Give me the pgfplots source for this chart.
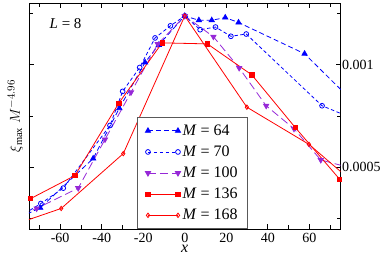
\documentclass[border=0pt]{standalone}
\usepackage{pgfplots}
\pgfplotsset{compat=1.18}
\usepackage{fontspec}
\setmainfont{Liberation Serif}
\definecolor{mblue}{RGB}{0,0,255}
\definecolor{mpurple}{RGB}{150,40,215}
\definecolor{mred}{RGB}{255,0,0}
\begin{document}
\begin{tikzpicture}
\useasboundingbox (-29pt,-26pt) rectangle (353pt,229pt);
\begin{axis}[
  at={(0,0)}, anchor=south west,
  scale only axis,
  width=311.5pt, height=226pt,
  xmin=-75, xmax=75, ymin=0.0002, ymax=0.0013,
  xtick={-60,-40,...,60},
  minor xtick={-70,-50,...,70},
  ytick={0.0005,0.001},
  yticklabels={0.0005,0.001},
  minor ytick={0.00025,0.00075,0.00125},
  scaled y ticks=false,
  tick align=inside,
  yticklabel pos=right,
  xtick pos=both, ytick pos=both,
  major tick length=5pt, minor tick length=4pt,
  tick style={black, line width=0.8pt},
  axis line style={line width=0.9pt},
  /pgf/number format/assume math mode=true,
  ticklabel style={font=\fontsize{14}{16}\selectfont},
  xticklabel style={inner ysep=1pt, yshift=-2.7pt},
  yticklabel style={xshift=-2pt},
  xlabel={\textit{x}},
  xlabel style={at={(axis description cs:0.5,-0.106)}, anchor=base, inner sep=0pt, font=\fontsize{16}{18}\selectfont},
  ylabel={$\xi_{\max}\ M^{-4.96}$},
  ylabel style={at={(axis description cs:-0.029,0.5)}, anchor=base, inner sep=0pt, rotate=0, font=\fontsize{15}{17}\selectfont},
  legend style={at={(axis description cs:0.346,0)}, anchor=south west, draw=gray!70!black, line width=1.2pt, fill=white, font=\fontsize{16}{18}\selectfont, row sep=5pt, inner xsep=8pt, inner ysep=5pt},
  legend cell align=left,
  legend image code/.code={\draw[#1] plot coordinates {(0pt,0pt) (30pt,0pt)};},
]
\addplot[mblue, line width=0.8pt, dash pattern=on 5pt off 3pt, mark=triangle*, mark size=3pt, mark options={solid}] coordinates {
(-83,0.00024) (-69.6,0.000303) (-44.1,0.000543) (-31.5,0.000788) (-19.1,0.001011) (-12.5,0.001096) (0,0.001237) (6.8,0.001216) (13,0.001216) (19.5,0.001229) (25.9,0.001205) (57.7,0.001053) (90,0.00073)};
\addlegendentry{\textit{M} = 64}
\addplot[mblue, line width=0.8pt, dash pattern=on 3.5pt off 2.5pt, mark=o, mark size=2.4pt, mark options={solid, fill=white}] coordinates {
(-82,0.000245) (-69.3,0.000324) (-58.5,0.000399) (-36.0,0.000704) (-29.9,0.00087) (-21.7,0.000986) (-14.3,0.00113) (-6.9,0.001189) (0,0.001237) (7.4,0.00117) (14.8,0.001183) (22.2,0.001138) (29.6,0.001149) (66.1,0.0008) (90,0.0007)};
\addlegendentry{\textit{M} = 70}
\addplot[mpurple, line width=0.8pt, dash pattern=on 8pt off 4pt, mark=triangle*, mark size=3pt, mark options={solid, rotate=180}] coordinates {
(-84,0.00025) (-71.3,0.0003) (-51.3,0.000399) (-38.4,0.000636) (-25.9,0.000865) (-13,0.0011) (0,0.001237) (13.8,0.001136) (26.2,0.000984) (39.2,0.0008) (52.6,0.000688) (65.5,0.000536) (79,0.0005)};
\addlegendentry{\textit{M} = 100}
\addplot[mred, line width=0.8pt, mark=square*, mark size=2.2pt, mark options={solid}] coordinates {
(-74.2,0.000348) (-52.9,0.00046) (-31.8,0.000812) (-10.9,0.001106) (10.9,0.001101) (32.3,0.00095) (53.2,0.694e-3) (74.6,0.000442)};
\addlegendentry{\textit{M} = 136}
\addplot[mred, line width=0.8pt, mark=diamond, mark size=2.2pt, mark options={solid, fill=white}] coordinates {
(-89.7,0.000195) (-59.5,0.0003) (-29.6,0.000567) (0,0.001237) (29.9,0.000793) (59.8,0.000612) (90,0.00035)};
\addlegendentry{\textit{M} = 168}
\node[anchor=west, font=\fontsize{15}{17}\selectfont] at (axis description cs:0.055,0.907) {\textit{L} = 8};
\end{axis}
\end{tikzpicture}
\end{document}
